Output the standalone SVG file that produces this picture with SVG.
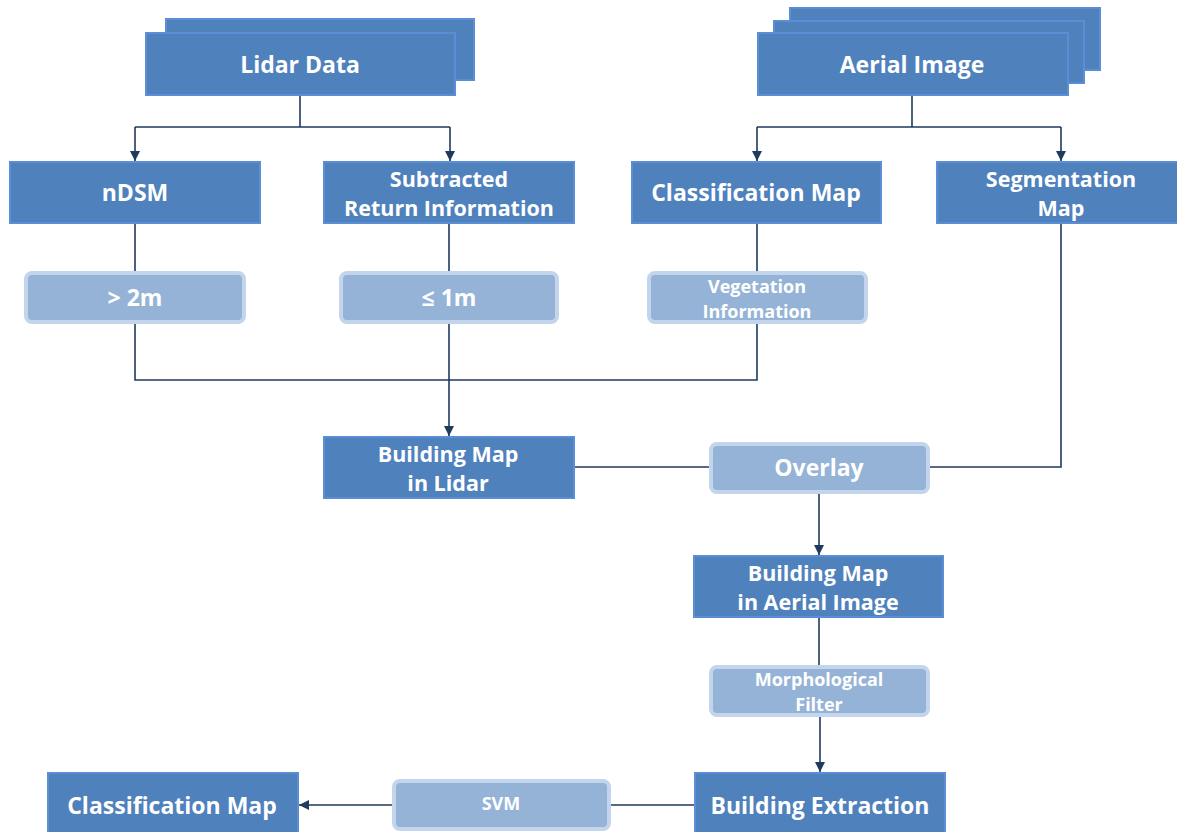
<svg xmlns="http://www.w3.org/2000/svg" width="1177" height="832" viewBox="0 0 1177 832">
<defs>
<style>
.d{fill:#4F81BD;stroke:#5A8ED6;stroke-width:2}
.l{fill:#95B3D7;stroke:#C3D5EC;stroke-width:4}
.t{fill:#fff;font-family:"Open Sans","Noto Sans",sans-serif;font-weight:bold;text-anchor:middle;dominant-baseline:central}
.b{font-size:23px}
.m{font-size:21.5px}
.s{font-size:18px}
.c{fill:none;stroke:#1F3A5F;stroke-width:1.6}
</style>
<marker id="ah" viewBox="0 0 10 10" refX="10" refY="5" markerWidth="10" markerHeight="10" markerUnits="userSpaceOnUse" orient="auto">
<path d="M0,0 L10,5 L0,10 Z" fill="#1F3A5F"/>
</marker>
</defs>
<rect width="1177" height="832" fill="#fff"/>
<g id="connectors">
<path class="c" d="M300,95 V127 M135,127 H450"/>
<path class="c" d="M135,127 V161" marker-end="url(#ah)"/>
<path class="c" d="M450,127 V161" marker-end="url(#ah)"/>
<path class="c" d="M912,95 V127 M757,127 H1061"/>
<path class="c" d="M757,127 V161" marker-end="url(#ah)"/>
<path class="c" d="M1061,127 V161" marker-end="url(#ah)"/>
<path class="c" d="M135,223 V272 M449,223 V272 M757,223 V272"/>
<path class="c" d="M135,323 V380 H757 V323"/>
<path class="c" d="M449,323 V436" marker-end="url(#ah)"/>
<path class="c" d="M574,467 H710 M929,467 H1061 V223"/>
<path class="c" d="M819,493 V555" marker-end="url(#ah)"/>
<path class="c" d="M819,617 V666"/>
<path class="c" d="M820,716 V772" marker-end="url(#ah)"/>
<path class="c" d="M695,805 H610"/>
<path class="c" d="M393,805 H299" marker-end="url(#ah)"/>
</g>
<g id="lidar-data">
<rect class="d" x="166" y="19" width="308" height="61"/>
<rect class="d" x="146" y="33" width="309" height="62"/>
<text class="t b" x="300" y="64">Lidar Data</text>
</g>
<g id="aerial-image">
<rect class="d" x="790" y="8" width="310" height="62"/>
<rect class="d" x="774" y="21" width="310" height="62"/>
<rect class="d" x="758" y="33" width="310" height="62"/>
<text class="t b" x="912" y="64">Aerial Image</text>
</g>
<g id="ndsm">
<rect class="d" x="10" y="162" width="250" height="61"/>
<text class="t b" x="135" y="192">nDSM</text>
</g>
<g id="subtracted">
<rect class="d" x="324" y="162" width="250" height="61"/>
<text class="t m" x="449" y="178">Subtracted</text>
<text class="t m" x="449" y="207">Return Information</text>
</g>
<g id="classification-map-top">
<rect class="d" x="632" y="162" width="249" height="61"/>
<text class="t b" x="756" y="192">Classification Map</text>
</g>
<g id="segmentation-map">
<rect class="d" x="937" y="162" width="250" height="61"/>
<text class="t m" x="1061" y="178">Segmentation</text>
<text class="t m" x="1061" y="207">Map</text>
</g>
<g id="gt2m">
<rect class="l" x="26" y="273" width="218" height="49" rx="6"/>
<text class="t b" x="135" y="297">&gt; 2m</text>
</g>
<g id="le1m">
<rect class="l" x="341" y="273" width="216" height="49" rx="6"/>
<text class="t b" x="449" y="297">≤ 1m</text>
</g>
<g id="vegetation">
<rect class="l" x="649" y="273" width="217" height="49" rx="6"/>
<text class="t s" x="757" y="286">Vegetation</text>
<text class="t s" x="757" y="311">Information</text>
</g>
<g id="building-map-lidar">
<rect class="d" x="324" y="437" width="250" height="61"/>
<text class="t m" x="448" y="453">Building Map</text>
<text class="t m" x="448" y="482">in Lidar</text>
</g>
<g id="overlay">
<rect class="l" x="711" y="444" width="217" height="48" rx="6"/>
<text class="t b" x="819" y="467">Overlay</text>
</g>
<g id="building-map-aerial">
<rect class="d" x="694" y="556" width="249" height="61"/>
<text class="t m" x="818" y="572">Building Map</text>
<text class="t m" x="818" y="601">in Aerial Image</text>
</g>
<g id="morphological">
<rect class="l" x="711" y="667" width="217" height="48" rx="6"/>
<text class="t s" x="819" y="679">Morphological</text>
<text class="t s" x="819" y="704">Filter</text>
</g>
<g id="building-extraction">
<rect class="d" x="695" y="773" width="250" height="62"/>
<text class="t b" x="820" y="805">Building Extraction</text>
</g>
<g id="svm">
<rect class="l" x="394" y="781" width="215" height="48" rx="6"/>
<text class="t s" x="501" y="803">SVM</text>
</g>
<g id="classification-map-bottom">
<rect class="d" x="48" y="773" width="250" height="62"/>
<text class="t b" x="172" y="805">Classification Map</text>
</g>
</svg>
